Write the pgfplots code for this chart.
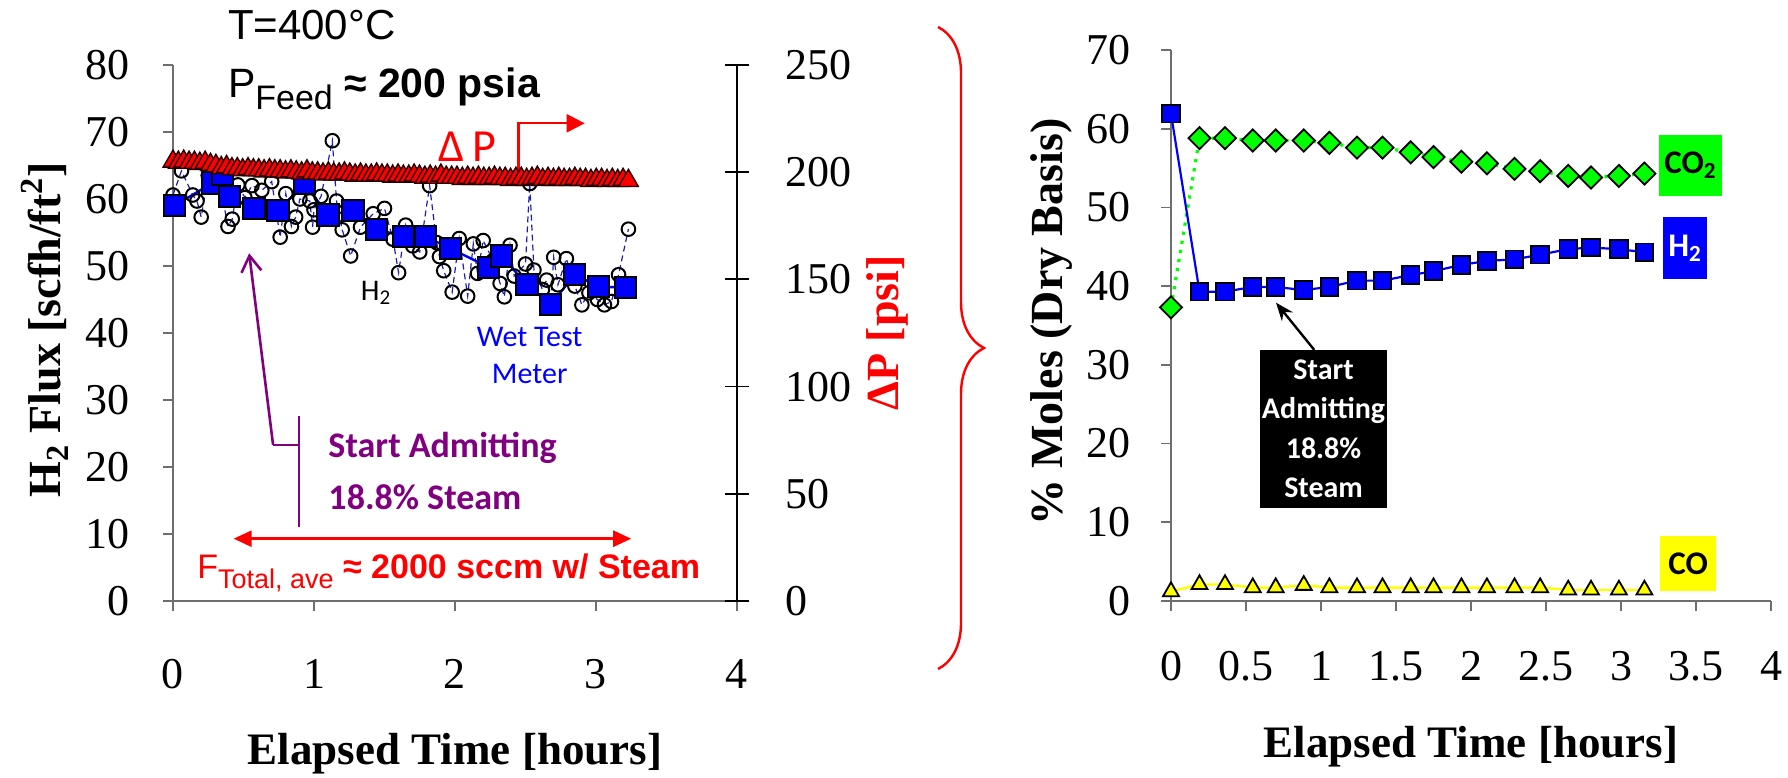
\documentclass[border=0pt]{standalone}
\usepackage{fontspec}
\setmainfont{Liberation Serif}
\newfontfamily\arialfont{Liberation Sans}
\newfontfamily\calibrifont{Carlito}
\usepackage{pgfplots}
\usepackage{pgfplotstable}
\pgfplotsset{compat=1.18}
\usetikzlibrary{arrows.meta,decorations.pathreplacing}

\definecolor{axgray}{RGB}{110,110,110}
\definecolor{wtmblue}{RGB}{0,0,255}
\definecolor{rawblue}{RGB}{30,30,180}
\definecolor{dpred}{RGB}{255,0,0}
\definecolor{steampurple}{RGB}{128,0,128}
\definecolor{cotwogreen}{RGB}{0,255,0}
\definecolor{coyellow}{RGB}{255,255,0}

\newcommand{\tickfont}{\fontsize{22}{22}\selectfont}
\newcommand{\labfont}{\fontsize{22.5}{24}\selectfont\bfseries}
\newcommand{\ylabfont}{\fontsize{23}{24}\selectfont\bfseries}

% raw H2 flux readings (open circles)
\pgfplotstableread{
t v
0.00 60.6
0.06 64.2
0.14 60.6
0.17 59.7
0.20 57.3
0.25 63.5
0.33 62.5
0.39 55.9
0.42 57.0
0.46 62.1
0.51 60.2
0.56 62.0
0.63 61.3
0.70 62.6
0.76 54.3
0.80 60.8
0.84 55.9
0.87 57.3
0.90 60.0
0.97 59.7
0.99 55.8
1.00 58.4
1.05 60.4
1.13 68.7
1.16 59.7
1.20 55.4
1.26 51.5
1.33 55.8
1.42 57.8
1.50 58.6
1.56 54.0
1.60 49.0
1.65 56.1
1.70 53.0
1.75 52.1
1.82 62.0
1.87 53.5
1.89 51.4
1.92 49.3
1.98 46.1
2.03 54.1
2.09 45.5
2.13 53.3
2.16 48.9
2.20 53.8
2.27 50.8
2.32 47.4
2.35 45.4
2.39 53.1
2.42 48.5
2.50 50.3
2.53 62.3
2.56 49.4
2.62 46.5
2.65 47.9
2.68 44.7
2.70 51.3
2.73 47.2
2.79 51.1
2.85 47.0
2.90 44.2
2.95 46.0
3.01 45.0
3.06 44.2
3.11 44.7
3.16 48.7
3.23 55.5
}\rawflux

% wet test meter H2 flux (blue squares)
\pgfplotstableread{
t v
0.01 59.0
0.28 62.4
0.35 63.6
0.40 60.4
0.575 58.6
0.744 58.3
0.934 62.3
1.10 57.6
1.276 58.3
1.446 55.5
1.633 54.4
1.79 54.4
1.97 52.6
2.24 49.8
2.33 51.5
2.51 47.2
2.68 44.3
2.85 48.7
3.02 46.9
3.21 46.8
}\wtmflux

% transmembrane pressure difference
\pgfplotstableread{
t dp
0.000 205.0
0.038 204.5
0.076 205.0
0.114 204.5
0.152 204.5
0.190 204.0
0.228 204.5
0.266 203.5
0.304 203.0
0.342 202.0
0.380 202.5
0.418 201.5
0.456 201.5
0.494 201.0
0.532 201.5
0.570 201.0
0.608 201.0
0.646 200.5
0.684 201.0
0.722 200.5
0.760 200.5
0.798 200.0
0.836 200.5
0.874 200.0
0.912 199.5
0.950 200.5
0.988 199.5
1.026 199.5
1.064 199.0
1.102 199.5
1.140 199.0
1.178 199.0
1.216 199.5
1.254 199.0
1.292 198.5
1.330 199.0
1.368 198.5
1.406 198.5
1.444 199.0
1.482 198.5
1.520 198.5
1.558 198.0
1.596 198.5
1.634 198.0
1.672 198.0
1.710 198.5
1.748 198.0
1.786 197.5
1.824 198.0
1.862 197.5
1.900 198.5
1.938 197.5
1.976 197.5
2.014 197.5
2.052 197.0
2.090 197.5
2.128 197.0
2.166 197.5
2.204 197.0
2.242 197.0
2.280 197.5
2.318 197.0
2.356 197.0
2.394 196.5
2.432 197.0
2.470 197.0
2.508 196.5
2.546 197.0
2.584 197.5
2.622 196.5
2.660 197.0
2.698 196.5
2.736 197.0
2.774 196.5
2.812 196.5
2.850 197.0
2.888 196.5
2.926 196.5
2.964 196.0
3.002 196.5
3.040 196.5
3.078 196.0
3.116 196.5
3.154 196.0
3.192 196.5
3.230 196.0
}\deltap

% retentate composition, dry basis
\pgfplotstableread{
t h2 co2 co
0.000 61.9 37.3 1.2
0.190 39.3 58.8 2.1
0.360 39.3 58.8 2.1
0.545 39.9 58.5 1.7
0.698 39.9 58.5 1.7
0.885 39.5 58.5 2.0
1.056 39.9 58.2 1.7
1.240 40.7 57.6 1.7
1.410 40.7 57.6 1.7
1.598 41.4 57.0 1.7
1.750 41.9 56.4 1.7
1.936 42.7 55.8 1.7
2.106 43.2 55.6 1.7
2.290 43.4 54.9 1.7
2.461 44.0 54.6 1.7
2.648 44.7 54.0 1.4
2.800 44.9 53.8 1.4
2.986 44.7 54.0 1.4
3.156 44.3 54.3 1.4
}\moles

\begin{document}
\begin{tikzpicture}
\useasboundingbox (0pt,0pt) rectangle (894pt,388.5pt);

% ---------- left panel: H2 flux ----------
\begin{axis}[
  at={(86.5pt,88pt)}, anchor=south west,
  scale only axis, width=282pt, height=268pt,
  xmin=0, xmax=4, ymin=0, ymax=80,
  axis x line=bottom, axis y line=left,
  axis line style={-, axgray, line width=0.9pt},
  every tick/.style={axgray, line width=0.9pt},
  tick align=outside, major tick length=5pt,
  xtick={0,1,2,3,4}, ytick={0,10,...,80},
  tick label style={font=\tickfont, inner sep=0pt},
  /pgf/number format/assume math mode=true,
  xticklabel style={yshift=-24pt},
  yticklabel style={xshift=-16.5pt},
  clip=false,
  xlabel={Elapsed Time [hours]},
  ylabel={H\textsubscript{2} Flux [scfh/ft\textsuperscript{2}]},
  every axis x label/.style={at={(axis description cs:0.5,-0.285)}, anchor=center, font=\labfont},
  every axis y label/.style={at={(axis description cs:-0.227,0.506)}, anchor=center, rotate=90, font=\ylabfont},
]
\addplot[rawblue, line width=0.6pt, dash pattern=on 3pt off 2pt,
  mark=o, mark size=3.4pt, mark options={solid, black, line width=1pt}]
  table[x=t, y=v] {\rawflux};
\addplot[wtmblue, line width=1.2pt,
  mark=square*, mark size=5.3pt, mark options={fill=wtmblue, draw=black, line width=1pt}]
  table[x=t, y=v] {\wtmflux};

% operating conditions
\node[anchor=base west, font=\arialfont\fontsize{21}{22}\selectfont] at (axis cs:0.34,83.8) {T=400°C};
\node[anchor=base west, font=\arialfont\fontsize{20.5}{22}\selectfont] at (axis cs:0.34,75.2)
  {P\raisebox{-0.3em}{\fontsize{17}{17}\selectfont Feed} \bfseries ≈ 200 psia};

% Delta P pointer
\node[anchor=west, text=dpred, font=\calibrifont\fontsize{23}{24}\selectfont, inner sep=0pt] at (axis cs:1.88,67.8) {Δ\,P};
\draw[dpred, line width=1.2pt, -{Triangle[length=9pt,width=9pt]}]
  (axis cs:2.45,64.2) -- (axis cs:2.45,71.3) -- (axis cs:2.92,71.3);

% series names
\node[font=\calibrifont\fontsize{15}{17}\selectfont] at (axis cs:1.44,46.0) {H\textsubscript{2}};
\node[text=wtmblue, font=\calibrifont\fontsize{15}{18.5}\selectfont, align=center] at (axis cs:2.53,36.6) {Wet Test\\Meter};

% steam admission marker
\draw[steampurple, line width=1pt] (axis cs:0.894,27.6) -- (axis cs:0.894,11.0);
\draw[steampurple, line width=1pt] (axis cs:0.894,23.3) -- (axis cs:0.71,23.3);
\draw[steampurple, line width=1.3pt, -{Straight Barb[length=8pt,width=10pt]}]
  (axis cs:0.71,23.3) -- (axis cs:0.54,51.9);
\node[anchor=west, text=steampurple, font=\calibrifont\bfseries\fontsize{18}{26}\selectfont, align=left, inner sep=0pt]
  at (axis cs:1.10,19.4) {Start Admitting\\18.8\% Steam};

% feed flow note
\draw[dpred, line width=1.2pt, {Triangle[length=9pt,width=8pt]}-{Triangle[length=9pt,width=8pt]}]
  (axis cs:0.43,9.3) -- (axis cs:3.25,9.3);
\node[anchor=base west, text=dpred, font=\arialfont\fontsize{17}{19}\selectfont, inner sep=0pt] at (axis cs:0.17,3.4)
  {F\raisebox{-0.3em}{\fontsize{13.5}{14}\selectfont Total, ave} \bfseries ≈ 2000 sccm w/ Steam};
\end{axis}

% ---------- left panel: pressure difference (right axis) ----------
\begin{axis}[
  at={(86.5pt,88pt)}, anchor=south west,
  scale only axis, width=282pt, height=268pt,
  xmin=0, xmax=4, ymin=0, ymax=250,
  axis x line=none, axis y line=right, xtick=\empty,
  axis line style={-, black, line width=0.9pt},
  every tick/.style={black, line width=0.9pt},
  tick align=center, major tick length=12pt,
  ytick={0,50,...,250},
  tick label style={font=\tickfont, inner sep=0pt},
  /pgf/number format/assume math mode=true,
  yticklabel style={anchor=west, xshift=18pt},
  clip=false,
  ylabel={ΔP [psi]},
  every axis y label/.style={at={(axis description cs:1.266,0.5)}, anchor=center, rotate=90, font=\ylabfont, text=dpred},
]
\addplot[only marks, mark=triangle*, mark size=5.7pt,
  mark options={fill=dpred, draw=black!85!red, line width=0.7pt}]
  table[x=t, y=dp] {\deltap};
\end{axis}

% brace tying the two panels together
\draw[dpred, line width=1.2pt, decorate, decoration={brace, amplitude=23pt}]
  (469pt,375pt) -- (469pt,54pt);

% ---------- right panel: composition ----------
\begin{axis}[
  at={(585.5pt,88pt)}, anchor=south west,
  scale only axis, width=300pt, height=275.5pt,
  xmin=0, xmax=4, ymin=0, ymax=70,
  axis x line=bottom, axis y line=left,
  axis line style={-, axgray, line width=0.9pt},
  every tick/.style={axgray, line width=0.9pt},
  tick align=outside, major tick length=5pt,
  xtick={0,0.5,1,1.5,2,2.5,3,3.5,4}, ytick={0,10,...,70},
  xticklabels={0,0.5,1,1.5,2,2.5,3,3.5,4},
  tick label style={font=\tickfont, inner sep=0pt},
  /pgf/number format/assume math mode=true,
  xticklabel style={yshift=-20pt},
  yticklabel style={xshift=-15pt},
  clip=false,
  xlabel={Elapsed Time [hours]},
  ylabel={\% Moles (Dry Basis)},
  every axis x label/.style={at={(axis description cs:0.5,-0.265)}, anchor=center, font=\labfont},
  every axis y label/.style={at={(axis description cs:-0.2,0.506)}, anchor=center, rotate=90, font=\ylabfont},
]
\addplot[coyellow, line width=1.2pt,
  mark=triangle*, mark size=4.6pt, mark options={fill=coyellow, draw=black, line width=0.9pt}]
  table[x=t, y=co] {\moles};
\addplot[cotwogreen, line width=1.6pt, dash pattern=on 1.6pt off 3pt,
  mark=square*, mark size=3.9pt, mark options={solid, rotate=45, fill=cotwogreen, draw=black, line width=0.9pt}]
  table[x=t, y=co2] {\moles};
\addplot[wtmblue, line width=1.1pt,
  mark=square*, mark size=4.4pt, mark options={fill=wtmblue, draw=black, line width=0.9pt}]
  table[x=t, y=h2] {\moles};

\draw[black, line width=1.2pt, -{Stealth[length=9pt,width=7pt]}]
  (axis cs:0.955,31.9) -- (axis cs:0.70,37.9);
\node[fill=black, text=white, font=\calibrifont\bfseries\fontsize{15}{19.75}\selectfont, align=center,
  minimum width=63.5pt, minimum height=79pt, inner sep=0pt] at (axis cs:1.017,21.85)
  {Start\\Admitting\\18.8\%\\Steam};

\node[fill=cotwogreen, minimum width=31.5pt, minimum height=30.5pt, inner sep=0pt,
  font=\calibrifont\bfseries\fontsize{16.5}{18}\selectfont] at (axis cs:3.463,55.35) {CO\textsubscript{2}};
\node[fill=wtmblue, text=white, minimum width=22pt, minimum height=31pt, inner sep=0pt,
  font=\calibrifont\bfseries\fontsize{16.5}{18}\selectfont] at (axis cs:3.427,44.85) {H\textsubscript{2}};
\node[fill=coyellow, minimum width=28pt, minimum height=27.5pt, inner sep=0pt,
  font=\calibrifont\bfseries\fontsize{16.5}{18}\selectfont] at (axis cs:3.447,4.77) {CO};
\end{axis}
\end{tikzpicture}
\end{document}
